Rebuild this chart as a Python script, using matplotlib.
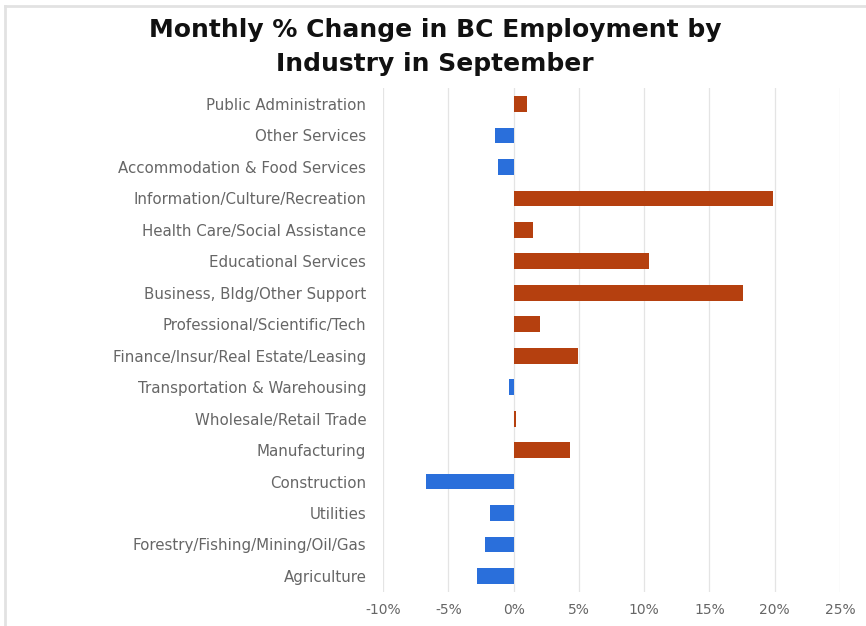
import matplotlib
matplotlib.use("Agg")
import matplotlib.pyplot as plt
from matplotlib.lines import Line2D
from matplotlib.ticker import FuncFormatter

industries = [
    "Public Administration",
    "Other Services",
    "Accommodation & Food Services",
    "Information/Culture/Recreation",
    "Health Care/Social Assistance",
    "Educational Services",
    "Business, Bldg/Other Support",
    "Professional/Scientific/Tech",
    "Finance/Insur/Real Estate/Leasing",
    "Transportation & Warehousing",
    "Wholesale/Retail Trade",
    "Manufacturing",
    "Construction",
    "Utilities",
    "Forestry/Fishing/Mining/Oil/Gas",
    "Agriculture",
]
pct_change = [1.0, -1.4, -1.2, 19.9, 1.5, 10.4, 17.6, 2.0, 4.9, -0.35, 0.2, 4.3, -6.7, -1.8, -2.2, -2.8]
x_ticks = [-10, -5, 0, 5, 10, 15, 20, 25]

POS = "#B5400F"
NEG = "#2A6FDB"

plt.rcParams["font.family"] = ["DejaVu Sans"]

W, H = 866, 626
fig = plt.figure(figsize=(W / 100, H / 100), dpi=100)
ax = fig.add_axes([0.4423, 0.0548, 0.5277, 0.8042])

ypos = list(range(len(industries)))
colors = [POS if v >= 0 else NEG for v in pct_change]
ax.barh(ypos, pct_change, height=0.5, color=colors, zorder=3)

ax.set_ylim(len(industries) - 0.5, -0.5)
ax.set_yticks(ypos)
ax.set_yticklabels(industries, fontsize=10.8, color="#666666")
ax.set_xlim(-10, 25)
ax.set_xticks(x_ticks)
ax.xaxis.set_major_formatter(FuncFormatter(lambda v, p: f"{v:.0f}%"))
ax.tick_params(axis="x", labelsize=10, colors="#666666", length=0, pad=8)
ax.tick_params(axis="y", length=0, pad=12)
ax.grid(axis="x", color="#e4e4e4", linewidth=0.9, zorder=0)
for s in ax.spines.values():
    s.set_visible(False)

title_kw = dict(ha="center", va="center", fontsize=18, fontweight="bold", color="#111111")
fig.text(435 / W, 1 - 30 / H, "Monthly % Change in BC Employment by", **title_kw)
fig.text(435 / W, 1 - 64 / H, "Industry in September", **title_kw)

# light frame along the left and top edges
frame_kw = dict(color="#e2e2e2", linewidth=2, transform=fig.transFigure)
fig.add_artist(Line2D([5 / W, 5 / W], [0, 1 - 6 / H], **frame_kw))
fig.add_artist(Line2D([5 / W, 1], [1 - 6 / H, 1 - 6 / H], **frame_kw))

fig.savefig("out.png", dpi=100, facecolor="white")
